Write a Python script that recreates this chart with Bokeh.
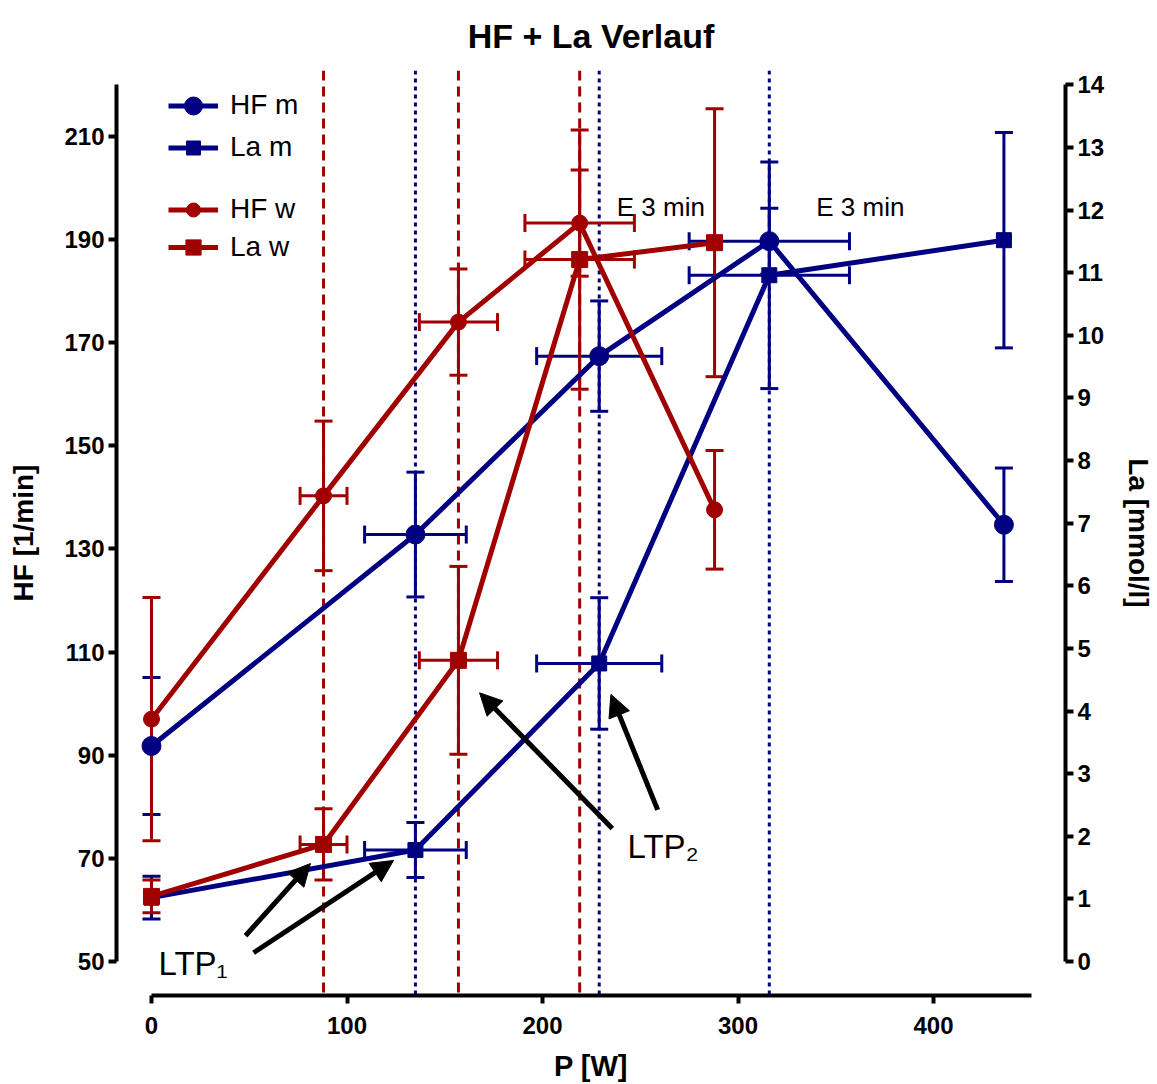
from bokeh.plotting import figure
from bokeh.models import (Range1d, LinearAxis, FixedTicker, ColumnDataSource, Whisker, TeeHead,
                          Span, Arrow, NormalHead, Legend, LegendItem)
from bokeh.core.properties import value
from bokeh.embed import file_html
from bokeh.resources import INLINE

# ---------------- data ----------------
# men (m)
p_m = [0, 135, 229, 316, 436]
p_m_err = [0, 26, 32, 41, 0]
hf_m = [91.8, 132.8, 167.4, 189.7, 134.7]
hf_m_err = [13.3, 12.1, 10.7, 6.4, 11.0]
la_m = [1.02, 1.78, 4.76, 10.96, 11.52]
la_m_err = [0.34, 0.44, 1.05, 1.81, 1.72]

# women (w)
p_w = [0, 88, 157, 219, 288]
p_w_err = [0, 12, 20, 28, 0]
hf_w = [97.0, 140.3, 174.0, 193.2, 137.6]
hf_w_err = [23.6, 14.5, 10.3, 10.3, 11.5]
la_w = [1.04, 1.87, 4.81, 11.21, 11.48]
la_w_err = [0.26, 0.57, 1.50, 2.07, 2.14]

# threshold lines
thresh_m = [135, 229, 316]
thresh_w = [88, 157, 219]

# ticks
x_ticks = [0, 100, 200, 300, 400]
hf_ticks = [50, 70, 90, 110, 130, 150, 170, 190, 210]
la_ticks = list(range(0, 15))

# annotations
note_x = [238, 340]
note_y = [196.3, 196.3]
notes = ["E 3 min", "E 3 min"]
ltp_x = [3.6, 243.5]
ltp_y = [49.6, 72.3]
ltp_labels = ["LTP\u2081", "LTP\u2082"]
arrow_x0 = [48.1, 52.2, 235.7, 258.9]
arrow_y0 = [55.0, 51.7, 75.8, 79.4]
arrow_x1 = [81.3, 123.8, 167.8, 235.0]
arrow_y1 = [69.0, 69.6, 102.1, 101.8]

BLUE = "#000080"
RED = "#A00000"
FONT = "Liberation Sans"

HF_LO, HF_HI = 43.41, 222.79
def hf_to_la(v):
    return (v - 50.0) * 14.0 / 170.0

p = figure(width=1157, height=1084,
           x_range=Range1d(-17.9, 467.5), y_range=Range1d(HF_LO, HF_HI),
           output_backend="svg", toolbar_location=None,
           x_axis_type=None, y_axis_type=None,
           min_border_left=116, min_border_right=92, min_border_top=70, min_border_bottom=87)
p.extra_y_ranges = {"la": Range1d(hf_to_la(HF_LO), hf_to_la(HF_HI))}
p.outline_line_color = None
p.background_fill_color = "white"

p.title.text = "HF + La Verlauf"
p.title.align = "center"
p.title.vertical_align = "top"
p.title.text_font = FONT
p.title.text_font_size = "34px"
p.title.text_font_style = "bold"
p.title.text_color = "black"
p.title.standoff = 28

def style_axis(ax, label_standoff=4, axis_standoff=14, label_size="28px"):
    ax.axis_line_width = 4
    ax.axis_line_color = "black"
    ax.major_tick_line_width = 4
    ax.major_tick_out = 8
    ax.major_tick_in = 0
    ax.minor_tick_line_color = None
    ax.major_label_text_font = FONT
    ax.major_label_text_font_style = "bold"
    ax.major_label_text_font_size = "24px"
    ax.major_label_text_color = "black"
    ax.major_label_standoff = label_standoff
    ax.axis_label_text_font = FONT
    ax.axis_label_text_font_style = "bold"
    ax.axis_label_text_font_size = label_size
    ax.axis_label_text_color = "black"
    ax.axis_label_standoff = axis_standoff

xaxis = LinearAxis(ticker=FixedTicker(ticks=x_ticks), bounds=(0, 450), axis_label="P [W]")
style_axis(xaxis, label_standoff=13, axis_standoff=13, label_size="29px")
p.add_layout(xaxis, "below")

yaxis = LinearAxis(ticker=FixedTicker(ticks=hf_ticks), bounds=(50, 220), axis_label="HF [1/min]")
style_axis(yaxis, label_standoff=4, axis_standoff=22)
p.add_layout(yaxis, "left")

raxis = LinearAxis(y_range_name="la", ticker=FixedTicker(ticks=la_ticks), bounds=(0, 14),
                   axis_label="La [mmol/l]")
style_axis(raxis, label_standoff=4, axis_standoff=16)
p.add_layout(raxis, "right")

# threshold lines
for t in thresh_w:
    p.add_layout(Span(location=t, dimension="height", line_color=RED, line_width=3,
                      line_dash="10 6", level="underlay"))
for t in thresh_m:
    p.add_layout(Span(location=t, dimension="height", line_color=BLUE, line_width=3,
                      line_dash="4 4", level="underlay"))

# error bars
def add_errors(px, pxe, vals, errs, color, range_name="default"):
    src = ColumnDataSource(dict(x=px, lo=[v - e for v, e in zip(vals, errs)],
                                hi=[v + e for v, e in zip(vals, errs)]))
    w = Whisker(source=src, base="x", lower="lo", upper="hi", dimension="height",
                line_color=color, line_width=3, y_range_name=range_name,
                upper_head=TeeHead(size=18, line_color=color, line_width=3),
                lower_head=TeeHead(size=18, line_color=color, line_width=3), level="underlay")
    p.add_layout(w)
    idx = [i for i, e in enumerate(pxe) if e > 0]
    srch = ColumnDataSource(dict(y=[vals[i] for i in idx],
                                 lo=[px[i] - pxe[i] for i in idx],
                                 hi=[px[i] + pxe[i] for i in idx]))
    wh = Whisker(source=srch, base="y", lower="lo", upper="hi", dimension="width",
                 line_color=color, line_width=3, y_range_name=range_name,
                 upper_head=TeeHead(size=18, line_color=color, line_width=3),
                 lower_head=TeeHead(size=18, line_color=color, line_width=3), level="underlay")
    p.add_layout(wh)

add_errors(p_m, p_m_err, hf_m, hf_m_err, BLUE)
add_errors(p_m, p_m_err, la_m, la_m_err, BLUE, "la")
add_errors(p_w, p_w_err, hf_w, hf_w_err, RED)
add_errors(p_w, p_w_err, la_w, la_w_err, RED, "la")

# series
l_hfm = p.line(p_m, hf_m, line_color=BLUE, line_width=5)
s_hfm = p.scatter(p_m, hf_m, marker="circle", size=19, fill_color=BLUE, line_color=BLUE)
l_lam = p.line(p_m, la_m, line_color=BLUE, line_width=5, y_range_name="la")
s_lam = p.scatter(p_m, la_m, marker="square", size=15, fill_color=BLUE, line_color=BLUE, y_range_name="la")
l_hfw = p.line(p_w, hf_w, line_color=RED, line_width=5)
s_hfw = p.scatter(p_w, hf_w, marker="circle", size=16, fill_color=RED, line_color=RED)
l_law = p.line(p_w, la_w, line_color=RED, line_width=5, y_range_name="la")
s_law = p.scatter(p_w, la_w, marker="square", size=16, fill_color=RED, line_color=RED, y_range_name="la")

# annotations
p.text(x=note_x, y=note_y, text=notes, text_font=value(FONT), text_font_size="26px",
       text_align="left", text_baseline="middle", text_color="black")
p.text(x=ltp_x, y=ltp_y, text=ltp_labels, text_font=value(FONT), text_font_size="33px",
       text_align="left", text_baseline="middle", text_color="black")
for xs, ys, xe, ye in zip(arrow_x0, arrow_y0, arrow_x1, arrow_y1):
    p.add_layout(Arrow(x_start=xs, y_start=ys, x_end=xe, y_end=ye, line_width=5, line_color="black",
                       end=NormalHead(size=22, fill_color="black", line_color="black", line_width=1)))

# legends (one per entry, to reproduce the uneven spacing)
legend_rows = [("HF m", [l_hfm, s_hfm], 45, 867.5),
               ("La m", [l_lam, s_lam], 35, 830.5),
               ("HF w", [l_hfw, s_hfw], 35, 768.5),
               ("La w", [l_law, s_law], 38, 729)]
for label, rends, gh, vy in legend_rows:
    lg = Legend(items=[LegendItem(label=label, renderers=rends)], location=(52, vy),
                glyph_width=50, glyph_height=gh, label_height=gh, label_standoff=12,
                padding=0, margin=0, spacing=0, border_line_color=None,
                background_fill_alpha=0, label_text_font=FONT, label_text_font_size="28px",
                label_text_color="black")
    p.add_layout(lg)

open("out.html", "w").write(file_html(p, INLINE))
